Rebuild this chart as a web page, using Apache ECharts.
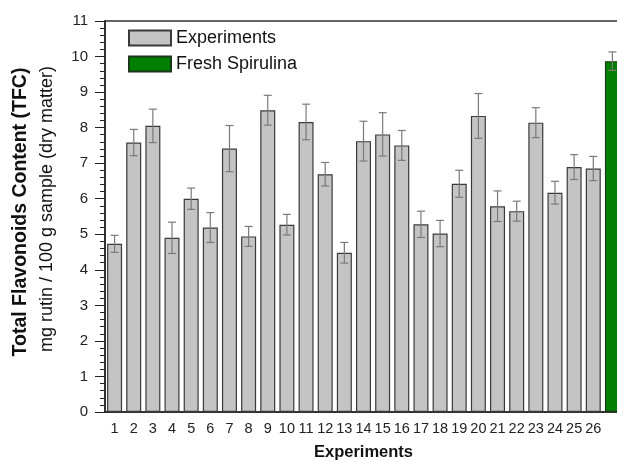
<!DOCTYPE html>
<html>
<head>
<meta charset="utf-8">
<script src="https://cdn.jsdelivr.net/npm/echarts@6/dist/echarts.min.js"></script>
<style>
  html, body { margin: 0; padding: 0; background: #fff; }
  #main { width: 617px; height: 461px; }
</style>
</head>
<body>
<div id="main"></div>
<script>
var dom = document.getElementById('main');
var myChart = echarts.init(dom);

// experiment numbers, last one is the fresh spirulina reference
var categories = ['1', '2', '3', '4', '5', '6', '7', '8', '9', '10', '11', '12', '13',
    '14', '15', '16', '17', '18', '19', '20', '21', '22', '23', '24', '25', '26', '27'];
var experiments = [4.73, 7.58, 8.05, 4.90, 6.00, 5.19, 7.41, 4.94, 8.49, 5.27, 8.16, 6.69, 4.48,
    7.62, 7.81, 7.50, 5.28, 5.02, 6.42, 8.33, 5.79, 5.65, 8.14, 6.17, 6.89, 6.85];
var spirulina = [9.87];
var errors = [0.24, 0.37, 0.47, 0.44, 0.30, 0.42, 0.65, 0.28, 0.42, 0.29, 0.50, 0.33, 0.29,
    0.56, 0.61, 0.42, 0.37, 0.37, 0.38, 0.63, 0.43, 0.28, 0.42, 0.32, 0.35, 0.34, 0.26];

var font = '"Liberation Sans", Arial, sans-serif';
var allValues = experiments.concat(spirulina);

var expData = categories.map(function (c, i) {
    return i < experiments.length ? experiments[i] : '-';
});
var freshData = categories.map(function (c, i) {
    return i < experiments.length ? '-' : spirulina[i - experiments.length];
});
var errData = allValues.map(function (v, i) {
    return [i, v - errors[i], v + errors[i]];
});

option = {
    animation: false,
    grid: {
        left: 105,
        width: 517,
        top: 21,
        bottom: 49,
        outerBoundsMode: 'none',
        containLabel: false,
        show: true,
        borderColor: '#666',
        borderWidth: 2
    },
    legend: {
        data: ['Experiments', 'Fresh Spirulina'],
        orient: 'vertical',
        left: 128,
        top: 29,
        padding: 0,
        itemWidth: 42,
        itemHeight: 15,
        itemGap: 8,
        icon: 'rect',
        selectedMode: false,
        textStyle: { fontFamily: font, fontSize: 18, color: '#111' }
    },
    xAxis: {
        type: 'category',
        data: categories,
        name: 'Experiments',
        nameLocation: 'middle',
        nameGap: 32,
        nameTextStyle: { fontFamily: font, fontSize: 16.5, fontWeight: 'bold', color: '#111' },
        axisLine: { lineStyle: { color: '#222', width: 1.5 } },
        axisTick: { alignWithLabel: true, interval: 0, length: 3, lineStyle: { color: '#222' } },
        axisLabel: {
            interval: 0,
            margin: 9,
            fontFamily: font,
            fontSize: 14.5,
            color: '#222',
            formatter: function (v) { return v === '27' ? '' : v; }
        },
        splitLine: { show: false }
    },
    yAxis: {
        type: 'value',
        min: 0,
        max: 11,
        interval: 1,
        axisLine: { show: true, lineStyle: { color: '#222', width: 1.5 } },
        axisTick: { show: true, length: 10, lineStyle: { color: '#222' } },
        minorTick: { show: true, splitNumber: 5, length: 5, lineStyle: { color: '#222' } },
        axisLabel: { margin: 17, fontFamily: font, fontSize: 15, color: '#222' },
        splitLine: { show: false }
    },
    graphic: [{
        type: 'text',
        x: 21,
        y: 212,
        rotation: Math.PI / 2,
        style: {
            text: 'Total Flavonoids Content (TFC)',
            fontFamily: font,
            fontSize: 19.5,
            fontWeight: 'bold',
            fill: '#111',
            textAlign: 'center',
            textVerticalAlign: 'middle'
        }
    }, {
        type: 'text',
        x: 47,
        y: 209,
        rotation: Math.PI / 2,
        style: {
            text: 'mg rutin / 100 g sample (dry matter)',
            fontFamily: font,
            fontSize: 18,
            fill: '#111',
            textAlign: 'center',
            textVerticalAlign: 'middle'
        }
    }],
    series: [{
        name: 'Experiments',
        type: 'bar',
        data: expData,
        barWidth: 15,
        barGap: '-100%',
        itemStyle: { color: '#c4c4c4', borderColor: '#3a3a3a', borderWidth: 1.2 }
    }, {
        name: 'Fresh Spirulina',
        type: 'bar',
        data: freshData,
        barWidth: 15,
        barGap: '-100%',
        itemStyle: { color: '#007f00', borderColor: '#1a3a1a', borderWidth: 1.2 }
    }, {
        name: 'error',
        type: 'custom',
        data: errData,
        z: 10,
        renderItem: function (params, api) {
            var x = api.value(0);
            var lo = api.coord([x, api.value(1)]);
            var hi = api.coord([x, api.value(2)]);
            var half = 4;
            var style = { stroke: '#7a7a7a', lineWidth: 1.2 };
            return {
                type: 'group',
                children: [
                    { type: 'line', shape: { x1: lo[0], y1: lo[1], x2: hi[0], y2: hi[1] }, style: style },
                    { type: 'line', shape: { x1: hi[0] - half, y1: hi[1], x2: hi[0] + half, y2: hi[1] }, style: style },
                    { type: 'line', shape: { x1: lo[0] - half, y1: lo[1], x2: lo[0] + half, y2: lo[1] }, style: style }
                ]
            };
        }
    }]
};

myChart.setOption(option, true);
</script>
</body>
</html>
